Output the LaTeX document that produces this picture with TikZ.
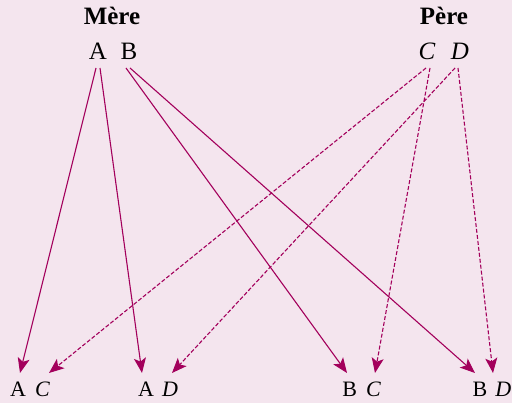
\documentclass[tikz,border=0pt]{standalone}
\usepackage{fontspec}
\setmainfont{Liberation Serif}
\usetikzlibrary{arrows.meta}
\definecolor{bgpink}{RGB}{244,229,238}
\definecolor{arrowmag}{RGB}{163,0,92}
\tikzset{
  lbltop/.style={anchor=base,inner sep=0pt,font=\fontsize{25}{25}\selectfont},
  lblbot/.style={anchor=base,inner sep=0pt,font=\fontsize{22}{22}\selectfont},
  ttl/.style={anchor=base,inner sep=0pt,font=\fontsize{25}{25}\selectfont\bfseries},
  link/.style={draw=arrowmag,line width=1.1pt,-{Stealth[length=15pt,width=12pt,inset=3.5pt]}},
  dlink/.style={link,dash pattern=on 4pt off 2pt}
}
\begin{document}
\begin{tikzpicture}[x=1pt,y=-1pt]
\fill[bgpink] (0,0) rectangle (512,403);
\useasboundingbox (0,0) rectangle (512,403);
% titles
\node[ttl] (mere) at (112,25) {Mère};
\node[ttl] (pere) at (444,25) {Père};
% parent alleles
\node[lbltop] (pA) at (98,60) {A};
\node[lbltop] (pB) at (129,60) {B};
\node[lbltop] (pC) at (427,60) {\itshape C};
\node[lbltop] (pD) at (460,60) {\itshape D};
% offspring
\node[lblbot] (oAC) at (30,397) {A\hspace{9pt}\itshape C};
\node[lblbot] (oAD) at (158,397) {A\hspace{8pt}\itshape D};
\node[lblbot] (oBC) at (361.5,397) {B\hspace{9pt}\itshape C};
\node[lblbot] (oBD) at (492,397) {B\hspace{8pt}\itshape D};
% connector ends
\coordinate (sA1) at (96,68);
\coordinate (sA2) at (100,68);
\coordinate (sB1) at (126,68);
\coordinate (sB2) at (130,68);
\coordinate (sC1) at (426,68);
\coordinate (sC2) at (430,68);
\coordinate (sD1) at (455,68);
\coordinate (sD2) at (458,68);
\coordinate (eAC1) at (20,373);
\coordinate (eAC2) at (49,373);
\coordinate (eAD1) at (142,373);
\coordinate (eAD2) at (172,373);
\coordinate (eBC1) at (347,373);
\coordinate (eBC2) at (375,373);
\coordinate (eBD1) at (475,373);
\coordinate (eBD2) at (493,373);
% solid: mother
\draw[link] (sA1) -- (eAC1);
\draw[link] (sA2) -- (eAD1);
\draw[link] (sB1) -- (eBC1);
\draw[link] (sB2) -- (eBD1);
% dashed: father
\draw[dlink] (sC1) -- (eAC2);
\draw[dlink] (sC2) -- (eBC2);
\draw[dlink] (sD1) -- (eAD2);
\draw[dlink] (sD2) -- (eBD2);
\end{tikzpicture}
\end{document}
